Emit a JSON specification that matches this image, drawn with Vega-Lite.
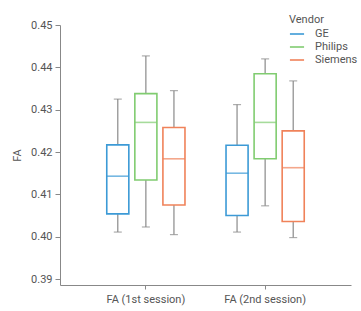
{
  "$schema": "https://vega.github.io/schema/vega-lite/v6.json",
  "autosize": "none",
  "width": 291,
  "height": 260,
  "padding": {"left": 60, "top": 25, "right": 10, "bottom": 26},
  "background": "white",
  "config": {
    "view": {"stroke": null},
    "font": "Roboto",
    "axis": {
      "labelFont": "Roboto",
      "labelFontSize": 11,
      "labelColor": "#555555",
      "titleFont": "Roboto",
      "titleFontSize": 11,
      "titleFontWeight": "normal",
      "titleColor": "#555555",
      "domainColor": "#888888",
      "tickColor": "#888888",
      "grid": false
    },
    "legend": {
      "titleFont": "Roboto",
      "titleFontSize": 11,
      "titleFontWeight": "normal",
      "titleColor": "#555555",
      "labelFont": "Roboto",
      "labelFontSize": 11,
      "labelColor": "#555555"
    }
  },
  "data": {
    "values": [
      {"session": "FA (1st session)", "vendor": "GE", "lower": 0.4011, "q1": 0.4054, "median": 0.4143, "q3": 0.4217, "upper": 0.4325},
      {"session": "FA (1st session)", "vendor": "Philips", "lower": 0.4023, "q1": 0.4134, "median": 0.4270, "q3": 0.4338, "upper": 0.4427},
      {"session": "FA (1st session)", "vendor": "Siemens", "lower": 0.4005, "q1": 0.4075, "median": 0.4184, "q3": 0.4258, "upper": 0.4345},
      {"session": "FA (2nd session)", "vendor": "GE", "lower": 0.4011, "q1": 0.4050, "median": 0.4150, "q3": 0.4216, "upper": 0.4312},
      {"session": "FA (2nd session)", "vendor": "Philips", "lower": 0.4073, "q1": 0.4184, "median": 0.4270, "q3": 0.4385, "upper": 0.4420},
      {"session": "FA (2nd session)", "vendor": "Siemens", "lower": 0.3998, "q1": 0.4036, "median": 0.4163, "q3": 0.4250, "upper": 0.4368}
    ]
  },
  "encoding": {
    "x": {
      "field": "session",
      "type": "nominal",
      "scale": {"paddingInner": 0.25, "paddingOuter": 0.345},
      "axis": {"title": null, "labelAngle": 0, "tickSize": 4, "labelPadding": 4}
    },
    "xOffset": {
      "field": "vendor",
      "type": "nominal",
      "scale": {"paddingInner": 0.214, "paddingOuter": 0.2}
    }
  },
  "layer": [
    {
      "mark": {"type": "rule", "color": "#8a8a8a", "strokeWidth": 1.2},
      "encoding": {
        "y": {
          "field": "lower",
          "type": "quantitative",
          "title": "FA",
          "scale": {"domain": [0.3886, 0.45], "nice": false, "zero": false},
          "axis": {
            "values": [0.39, 0.4, 0.41, 0.42, 0.43, 0.44, 0.45],
            "format": ".2f",
            "tickSize": 5,
            "labelPadding": 3,
            "titlePadding": 8
          }
        },
        "y2": {"field": "upper"}
      }
    },
    {
      "mark": {"type": "tick", "color": "#8a8a8a", "size": 8, "thickness": 1.2},
      "encoding": {"y": {"field": "lower", "type": "quantitative"}}
    },
    {
      "mark": {"type": "tick", "color": "#8a8a8a", "size": 8, "thickness": 1.2},
      "encoding": {"y": {"field": "upper", "type": "quantitative"}}
    },
    {
      "mark": {"type": "bar", "fill": "white", "strokeWidth": 1.6},
      "encoding": {
        "y": {"field": "q1", "type": "quantitative"},
        "y2": {"field": "q3"},
        "stroke": {
          "field": "vendor",
          "type": "nominal",
          "scale": {"domain": ["GE", "Philips", "Siemens"], "range": ["#3c9ad6", "#80cc70", "#f0825a"]},
          "legend": {
            "title": "Vendor",
            "orient": "none",
            "legendX": 229,
            "legendY": -11,
            "titlePadding": 1,
            "symbolType": "stroke",
            "symbolSize": 200,
            "symbolStrokeWidth": 1.6,
            "rowPadding": 0,
            "labelOffset": 10
          }
        }
      }
    },
    {
      "mark": {"type": "tick", "size": 22, "thickness": 1.6},
      "encoding": {
        "y": {"field": "median", "type": "quantitative"},
        "color": {
          "field": "vendor",
          "type": "nominal",
          "scale": {"domain": ["GE", "Philips", "Siemens"], "range": ["#3c9ad6", "#80cc70", "#f0825a"]},
          "legend": null
        }
      }
    }
  ]
}
